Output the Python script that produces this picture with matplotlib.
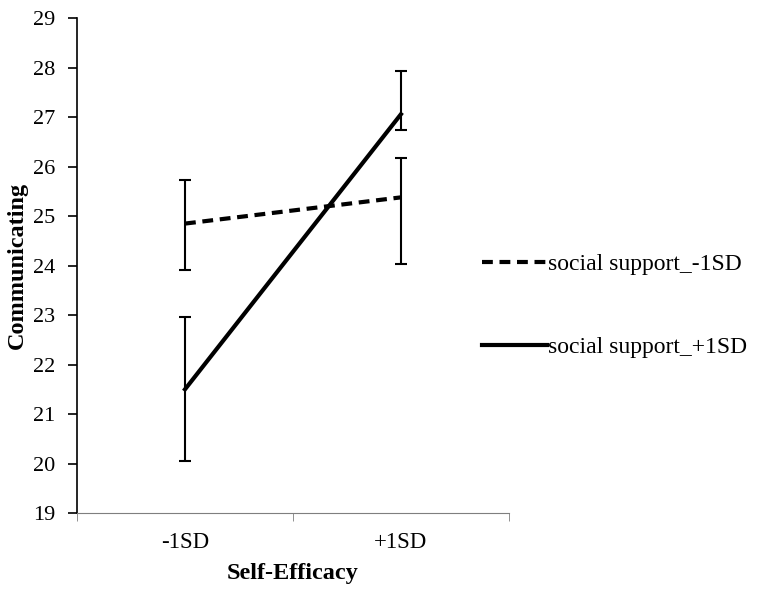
import matplotlib.pyplot as plt
from matplotlib.lines import Line2D

# --- data ---
categories = ["-1SD", "+1SD"]
low_support = [24.85, 25.38]
low_support_lo = [23.92, 24.03]
low_support_hi = [25.74, 26.17]
high_support = [21.5, 27.06]
high_support_lo = [20.05, 26.75]
high_support_hi = [22.97, 27.93]
series_labels = ['social support_-1SD', 'social support_+1SD']

plt.rcParams['font.family'] = ['Liberation Serif', 'DejaVu Serif']

fig = plt.figure(figsize=(7.65, 5.89), dpi=100)
ax = fig.add_axes([0.1007, 0.129, 0.5645, 0.84])

x = [0, 1]
dash = (2.6, 1.6)


def err(vals, lo, hi):
    return [[v - l for v, l in zip(vals, lo)], [h - v for v, h in zip(vals, hi)]]


ax.errorbar(x, low_support, yerr=err(low_support, low_support_lo, low_support_hi),
            color='black', lw=3, dashes=dash, ecolor='black', elinewidth=1.5,
            capsize=4, capthick=1.5)
ax.errorbar(x, high_support, yerr=err(high_support, high_support_lo, high_support_hi),
            color='black', lw=3, ecolor='black', elinewidth=1.5,
            capsize=4, capthick=1.5)

ax.set_xlim(-0.5, 1.5)
ax.set_ylim(19, 29)
ax.set_yticks(range(19, 30))
ax.set_xticks(x, categories)
ax.set_xticks([-0.5, 0.5, 1.5], minor=True)
ax.tick_params(axis='x', which='major', length=0, labelsize=16.5, pad=14)
ax.tick_params(axis='x', which='minor', length=5.5, color='#7f7f7f')
ax.tick_params(axis='y', length=6.5, width=1.2, labelsize=16, pad=9)

for s in ['top', 'right']:
    ax.spines[s].set_visible(False)
ax.spines['bottom'].set_color('#7f7f7f')
ax.spines['left'].set_linewidth(1.2)

ax.set_ylabel('Communicating', fontsize=17.5, fontweight='bold', labelpad=4)
ax.set_xlabel('Self-Efficacy', fontsize=17.5, fontweight='bold', labelpad=7)

handles = [Line2D([], [], color='black', lw=3, dashes=dash),
           Line2D([], [], color='black', lw=3)]
ax.legend(handles, series_labels, loc='center left',
          bbox_to_anchor=(482 / 765, 1 - 306 / 589), bbox_transform=fig.transFigure,
          frameon=False, fontsize=17, handlelength=2.75, handletextpad=0.05,
          labelspacing=2.6, borderpad=0.0, borderaxespad=0.0)

fig.savefig('out.png', dpi=100)
